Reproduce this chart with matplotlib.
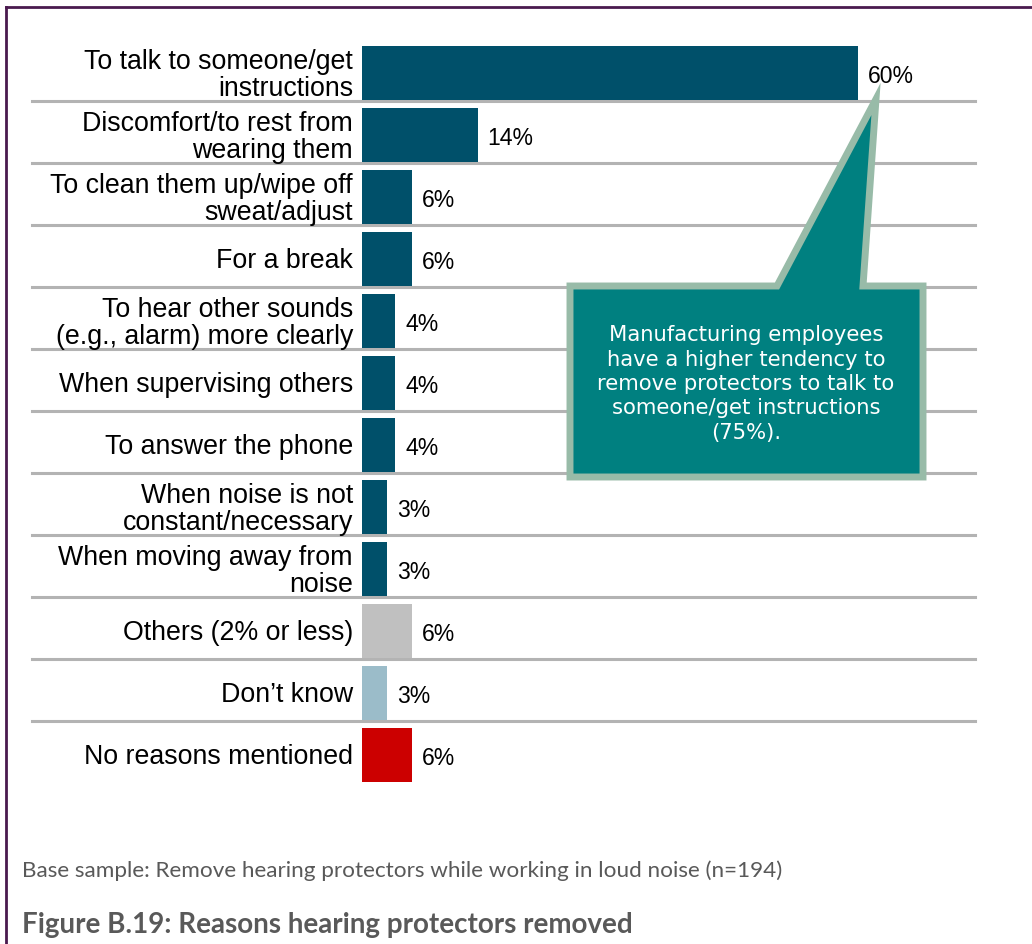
import matplotlib
matplotlib.use('Agg')
import matplotlib.pyplot as plt
from matplotlib.patches import Polygon
from matplotlib.lines import Line2D

# Data
labels = [
    "To talk to someone/get\ninstructions",
    "Discomfort/to rest from\nwearing them",
    "To clean them up/wipe off\nsweat/adjust",
    "For a break",
    "To hear other sounds\n(e.g., alarm) more clearly",
    "When supervising others",
    "To answer the phone",
    "When noise is not\nconstant/necessary",
    "When moving away from\nnoise",
    "Others (2% or less)",
    "Don\u2019t know",
    "No reasons mentioned",
]
values = [60, 14, 6, 6, 4, 4, 4, 3, 3, 6, 3, 6]
value_text = ["60%", "14%", "6%", "6%", "4%", "4%", "4%", "3%", "3%", "6%", "3%", "6%"]
bar_colors = ["#00506A"] * 9 + ["#C0C0C0", "#9BBCC9", "#CC0000"]

callout_text = ("Manufacturing employees\nhave a higher tendency to\n"
                "remove protectors to talk to\nsomeone/get instructions\n(75%).")
base_note = "Base sample: Remove hearing protectors while working in loud noise (n=194)"
fig_title = "Figure B.19: Reasons hearing protectors removed"

W, H = 1032, 945
fig = plt.figure(figsize=(W / 100, H / 100), dpi=100)

# axes in pixel terms: x from 362 to 975, y rows centred 74..756
x0, x1 = 362, 975
y_top, y_bot = 43, 787
ax = fig.add_axes([x0 / W, 1 - y_bot / H, (x1 - x0) / W, (y_bot - y_top) / H])
px_per_unit = (858 - 362) / 60.0
ax.set_xlim(0, (x1 - x0) / px_per_unit)
n = len(values)
ax.set_ylim(n - 0.5, -0.5)
ax.axis('off')

ypos = list(range(n))
ax.barh(ypos, values, height=0.87, color=bar_colors, zorder=2)

# separators
sep_x0 = (32 - x0) / (x1 - x0)
for i in range(n - 1):
    ax.axhline(i + 0.45, xmin=sep_x0, xmax=1.0, color="#B3B3B3", lw=2.2,
               clip_on=False, zorder=1)

for y, v, lab, vt in zip(ypos, values, labels, value_text):
    ax.text(-9 / px_per_unit, y + 0.02, lab, ha='right', va='center', fontsize=19.3,
            family='Liberation Sans', linespacing=1.06, color='black')
    ax.text(v + 10 / px_per_unit, y + 0.04, vt, ha='left', va='center',
            fontsize=16.6, family='Liberation Sans', color='black')

# callout (figure pixel coords, y from top)
def to_fig(px, py):
    return (px / W, 1 - py / H)

pts = [(570, 287), (777, 287), (876, 100), (863, 287), (923, 287),
       (923, 478), (570, 478)]
poly = Polygon([to_fig(*p) for p in pts], closed=True, transform=fig.transFigure,
               facecolor="#008080", edgecolor="#98BBA8", lw=5, joinstyle='miter',
               zorder=5)
fig.patches.append(poly)
fig.text(746 / W, 1 - 384 / H, callout_text, ha='center', va='center',
         color='white', fontsize=15.2, family='DejaVu Sans', linespacing=1.28,
         zorder=6)

# frame lines
frame_col = "#4A1A4E"
fig.add_artist(Line2D([6 / W, 1], [1 - 8 / H, 1 - 8 / H], color=frame_col, lw=2,
                      transform=fig.transFigure))
fig.add_artist(Line2D([6 / W, 6 / W], [0, 1 - 8 / H], color=frame_col, lw=2,
                      transform=fig.transFigure))

fig.text(22 / W, 1 - 871 / H, base_note, ha='left', va='center', fontsize=16.2,
         color="#595959", family='Lato')
fig.text(22 / W, 1 - 925 / H, fig_title, ha='left', va='center', fontsize=20,
         color="#595959", family='Lato', weight='bold')

fig.savefig("out.png", dpi=100)
